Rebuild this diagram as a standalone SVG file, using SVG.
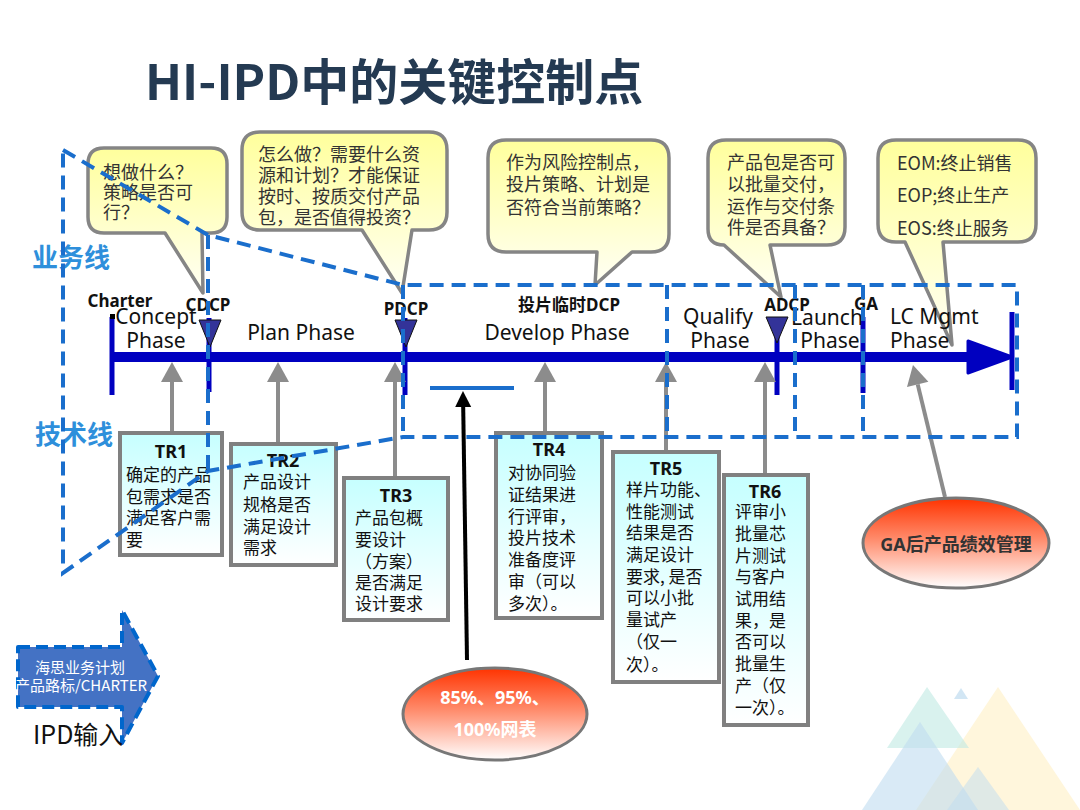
<svg xmlns="http://www.w3.org/2000/svg" width="1080" height="810" viewBox="0 0 1080 810">
<defs>
<linearGradient id="gCallout" x1="0" y1="0" x2="0" y2="1">
<stop offset="0" stop-color="#FFFF9C"/><stop offset="1" stop-color="#FFFFF5"/>
</linearGradient>
<linearGradient id="gTR" x1="0" y1="0" x2="0" y2="1">
<stop offset="0" stop-color="#C6FFFF"/><stop offset="1" stop-color="#FFFFFF"/>
</linearGradient>
<linearGradient id="gEll" x1="0" y1="0" x2="0" y2="1">
<stop offset="0" stop-color="#FF3300"/><stop offset="0.45" stop-color="#FF8A6A"/><stop offset="1" stop-color="#FFFFFF"/>
</linearGradient>
<marker id="mGray" markerUnits="userSpaceOnUse" markerWidth="20" markerHeight="22" refX="0" refY="11" orient="auto" overflow="visible">
<path d="M0,0 L20,11 L0,22 Z" fill="#8C8C8C"/>
</marker>
<marker id="mBlack" markerUnits="userSpaceOnUse" markerWidth="16" markerHeight="16" refX="0" refY="8" orient="auto" overflow="visible">
<path d="M0,0 L16,8 L0,16 Z" fill="#000"/>
</marker>
</defs>
<style>
.dash{fill:none;stroke:#1A6ECC;stroke-width:4;stroke-dasharray:14 8}
.callout{fill:url(#gCallout);stroke:#858585;stroke-width:3.5;stroke-linejoin:round}
.ct{font-family:'Noto Sans CJK SC',sans-serif;font-size:18px;fill:#333}
.tr{fill:url(#gTR);stroke:#808080;stroke-width:4}
.trh{font-family:'Noto Sans','Noto Sans CJK SC',sans-serif;font-weight:700;font-size:18px;fill:#111;text-anchor:middle}
.trt{font-family:'Noto Sans CJK SC',sans-serif;font-size:17px;fill:#111}
.phase{font-family:'Noto Sans','Noto Sans CJK SC',sans-serif;font-size:21px;fill:#111;text-anchor:middle}
.phase-l{font-family:'Noto Sans','Noto Sans CJK SC',sans-serif;font-size:21px;fill:#111;text-anchor:start}
.dcp{font-family:'Noto Sans','Noto Sans CJK SC',sans-serif;font-weight:700;font-size:17px;fill:#111;text-anchor:middle}
.tick{stroke:#0000C0;stroke-width:5}
.garrow{stroke:#8C8C8C;stroke-width:4;fill:none;marker-end:url(#mGray)}
.tri{fill:#333399;stroke:#111;stroke-width:1}
.ell{fill:url(#gEll);stroke:#777;stroke-width:3}
.side{font-family:'Noto Sans CJK SC',sans-serif;font-weight:700;font-size:26px;fill:#2E8FDB}
</style>

<g id="decor">
<polygon points="998,687 916,810 1080,810" fill="#FFEFC0" opacity="0.55"/>
<polygon points="927,687 887,748 969,748" fill="#BFE9E2" opacity="0.6"/>
<polygon points="920,722 862,810 978,810" fill="#BFDCF0" opacity="0.6"/>
<polygon points="961,688 954,699 968,699" fill="#BFDCF0" opacity="0.7"/>
<polygon points="978,767 947,810 1009,810" fill="#BFDCF0" opacity="0.5"/>
</g>

<g id="title">
<text x="145" y="100" font-family="'Noto Sans CJK SC',sans-serif" font-weight="700" font-size="49" fill="#243A52">HI-IPD中的关键控制点</text>
</g>

<g id="side-labels">
<text class="side" x="32" y="267">业务线</text>
<text class="side" x="35" y="444">技术线</text>
</g>

<g id="callout1">
<path class="callout" d="M104,148 H211 Q227,148 227,164 V217 Q227,233 211,233 H202 L203,293 L165,233 H104 Q88,233 88,217 V164 Q88,148 104,148 Z"/>
<text class="ct" x="103" y="179">想做什么？</text>
<text class="ct" x="103" y="199">策略是否可</text>
<text class="ct" x="103" y="219">行？</text>
</g>
<g id="callout2">
<path class="callout" d="M260,132 H429 Q447,132 447,150 V212 Q447,230 429,230 H412 L402,293 L362,230 H260 Q242,230 242,212 V150 Q242,132 260,132 Z"/>
<text class="ct" x="258" y="161">怎么做？需要什么资</text>
<text class="ct" x="258" y="182">源和计划？才能保证</text>
<text class="ct" x="258" y="203">按时、按质交付产品</text>
<text class="ct" x="258" y="224">包，是否值得投资？</text>
</g>
<g id="callout3">
<path class="callout" d="M506,140 H651 Q669,140 669,158 V234 Q669,252 651,252 H632 L595,285 L597,252 H506 Q488,252 488,234 V158 Q488,140 506,140 Z"/>
<text class="ct" x="506" y="169">作为风险控制点，</text>
<text class="ct" x="506" y="191">投片策略、计划是</text>
<text class="ct" x="506" y="214">否符合当前策略？</text>
</g>
<g id="callout4">
<path class="callout" d="M726,140 H827 Q845,140 845,158 V227 Q845,245 827,245 H770 L781,297 L724,245 Q708,245 708,229 V158 Q708,140 726,140 Z"/>
<text class="ct" x="727" y="169">产品包是否可</text>
<text class="ct" x="727" y="191">以批量交付，</text>
<text class="ct" x="727" y="213">运作与交付条</text>
<text class="ct" x="727" y="234">件是否具备？</text>
</g>
<g id="callout5">
<path class="callout" d="M896,140 H1018 Q1036,140 1036,158 V224 Q1036,242 1018,242 H943 L952,345 L905,242 H896 Q878,242 878,224 V158 Q878,140 896,140 Z"/>
<text class="ct" x="897" y="170">EOM:终止销售</text>
<text class="ct" x="897" y="202">EOP;终止生产</text>
<text class="ct" x="897" y="235">EOS:终止服务</text>
</g>

<g id="timeline">
<line x1="112" y1="357" x2="975" y2="357" stroke="#0000C0" stroke-width="10"/>
<polygon points="968,341 1012,357 968,373" fill="#0000C0" stroke="#0000C0" stroke-width="3" stroke-linejoin="round"/>
<line class="tick" x1="112" y1="317" x2="112" y2="395"/>
<rect x="110" y="314" width="5" height="5" fill="#000"/>
<line class="tick" x1="209" y1="318" x2="209" y2="392"/>
<line class="tick" x1="405" y1="318" x2="405" y2="395"/>
<line class="tick" x1="777" y1="317" x2="777" y2="395"/>
<line class="tick" x1="863" y1="317" x2="863" y2="393"/>
<line class="tick" x1="1012" y1="312" x2="1012" y2="390"/>
<polygon class="tri" points="199,320 221,320 210,347"/>
<polygon class="tri" points="395,320 417,320 406,347"/>
<polygon class="tri" points="766,317 788,317 777,343"/>
</g>

<g id="milestone-labels">
<text class="dcp" x="120" y="307">Charter</text>
<text class="dcp" x="208" y="311">CDCP</text>
<text class="dcp" x="406" y="315">PDCP</text>
<text class="dcp" x="569" y="311">投片临时DCP</text>
<text class="dcp" x="787" y="311">ADCP</text>
<text class="dcp" x="866" y="310">GA</text>
</g>

<g id="phase-labels">
<text class="phase" x="156" y="324">Concept</text>
<text class="phase" x="156" y="348">Phase</text>
<text class="phase" x="301" y="340">Plan Phase</text>
<text class="phase" x="557" y="340">Develop Phase</text>
<text class="phase" x="718" y="324">Qualify</text>
<text class="phase" x="720" y="348">Phase</text>
<text class="phase" x="827" y="325">Launch</text>
<text class="phase" x="830" y="348">Phase</text>
<text class="phase-l" x="890" y="324">LC Mgmt</text>
<text class="phase-l" x="890" y="348">Phase</text>
</g>

<g id="connectors">
<line class="garrow" x1="172" y1="432" x2="172" y2="382"/>
<line class="garrow" x1="278" y1="443" x2="278" y2="382"/>
<line class="garrow" x1="395" y1="477" x2="395" y2="382"/>
<line class="garrow" x1="545" y1="433" x2="545" y2="382"/>
<line class="garrow" x1="666" y1="452" x2="666" y2="382"/>
<line class="garrow" x1="765" y1="474" x2="765" y2="382"/>
<line class="garrow" x1="945" y1="497" x2="917.7" y2="384.4"/>
</g>

<g id="TR1">
<rect class="tr" x="120" y="433" width="102" height="122"/>
<text class="trh" x="171" y="458">TR1</text>
<text class="trt" x="126" y="481">确定的产品</text>
<text class="trt" x="126" y="503">包需求是否</text>
<text class="trt" x="126" y="524">满足客户需</text>
<text class="trt" x="126" y="546">要</text>
</g>
<g id="TR2">
<rect class="tr" x="231" y="444" width="105" height="121"/>
<text class="trh" x="283" y="467">TR2</text>
<text class="trt" x="243" y="488">产品设计</text>
<text class="trt" x="243" y="511">规格是否</text>
<text class="trt" x="243" y="533">满足设计</text>
<text class="trt" x="243" y="554">需求</text>
</g>
<g id="TR3">
<rect class="tr" x="344" y="478" width="104" height="142"/>
<text class="trh" x="396" y="502">TR3</text>
<text class="trt" x="355" y="524">产品包概</text>
<text class="trt" x="355" y="546">要设计</text>
<text class="trt" x="355" y="568">（方案）</text>
<text class="trt" x="355" y="589">是否满足</text>
<text class="trt" x="355" y="610">设计要求</text>
</g>
<g id="TR4">
<rect class="tr" x="496" y="433" width="106" height="185"/>
<text class="trh" x="549" y="456">TR4</text>
<text class="trt" x="508" y="479">对协同验</text>
<text class="trt" x="508" y="501">证结果进</text>
<text class="trt" x="508" y="523">行评审，</text>
<text class="trt" x="508" y="544">投片技术</text>
<text class="trt" x="508" y="566">准备度评</text>
<text class="trt" x="508" y="588">审（可以</text>
<text class="trt" x="508" y="610">多次）。</text>
</g>
<g id="TR5">
<rect class="tr" x="613" y="452" width="106" height="230"/>
<text class="trh" x="666" y="475">TR5</text>
<text class="trt" x="626" y="496">样片功能、</text>
<text class="trt" x="626" y="518">性能测试</text>
<text class="trt" x="626" y="539">结果是否</text>
<text class="trt" x="626" y="561">满足设计</text>
<text class="trt" x="626" y="583">要求, 是否</text>
<text class="trt" x="626" y="604">可以小批</text>
<text class="trt" x="626" y="626">量试产</text>
<text class="trt" x="626" y="648">（仅一</text>
<text class="trt" x="626" y="671">次）。</text>
</g>
<g id="TR6">
<rect class="tr" x="724" y="475" width="84" height="250"/>
<text class="trh" x="765" y="498">TR6</text>
<text class="trt" x="735" y="518">评审小</text>
<text class="trt" x="735" y="540">批量芯</text>
<text class="trt" x="735" y="562">片测试</text>
<text class="trt" x="735" y="583">与客户</text>
<text class="trt" x="735" y="605">试用结</text>
<text class="trt" x="735" y="627">果，是</text>
<text class="trt" x="735" y="648">否可以</text>
<text class="trt" x="735" y="670">批量生</text>
<text class="trt" x="735" y="692">产（仅</text>
<text class="trt" x="735" y="714">一次）。</text>
</g>

<g id="ellipse-netlist">
<ellipse class="ell" cx="495" cy="714" rx="92" ry="46"/>
<text x="495" y="704" font-family="'Noto Sans','Noto Sans CJK SC',sans-serif" font-weight="700" font-size="18" fill="#FFFFFF" text-anchor="middle">85%、95%、</text>
<text x="495" y="736" font-family="'Noto Sans','Noto Sans CJK SC',sans-serif" font-weight="700" font-size="18" fill="#FFFFFF" text-anchor="middle">100%网表</text>
</g>
<g id="ellipse-ga">
<ellipse class="ell" cx="956" cy="543" rx="93" ry="45"/>
<text x="956" y="551" font-family="'Noto Sans','Noto Sans CJK SC',sans-serif" font-weight="700" font-size="18" fill="#333" text-anchor="middle">GA后产品绩效管理</text>
</g>

<g id="ipd-input">
<path d="M18,647 H122 V610 L158,676 L122,743 V707 H18 Z" fill="#4472C4" stroke="#0066CC" stroke-width="4" stroke-dasharray="12 6" stroke-linejoin="round"/>
<text x="80" y="673" font-family="'Noto Sans CJK SC',sans-serif" font-size="15" fill="#FFFFFF" text-anchor="middle">海思业务计划</text>
<text x="81" y="691" font-family="'Noto Sans CJK SC',sans-serif" font-size="15" fill="#FFFFFF" text-anchor="middle">产品路标/CHARTER</text>
<text x="33" y="744" font-family="'Noto Sans CJK SC',sans-serif" font-size="25" fill="#111">IPD输入</text>
</g>

<g id="scope-lines">
<path class="dash" d="M63,150 L208,235 L403,285 L1017,285 L1017,437 L403,437 L208,471 L63,573 Z"/>
<path class="dash" d="M208,235 V471 M403,285 V437 M667,285 V437 M795,285 V437 M863,285 V437"/>
<line x1="430" y1="388" x2="514" y2="388" stroke="#1A6ECC" stroke-width="4"/>
</g>

<g id="netlist-arrow">
<line x1="467" y1="660" x2="463.2" y2="407" stroke="#000" stroke-width="4" marker-end="url(#mBlack)"/>
</g>
</svg>
